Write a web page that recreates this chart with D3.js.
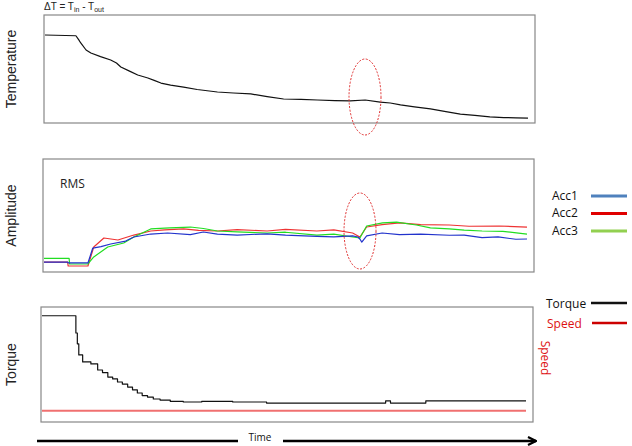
<!DOCTYPE html>
<html><head><meta charset="utf-8">
<script src="https://cdn.jsdelivr.net/npm/d3@7"></script>
<style>body{margin:0;background:#fff}svg{display:block}</style>
</head><body>
<svg id="c" width="632" height="446"></svg>
<script>
// time index 0..100, values in relative units 0..100
const tempT   = [0,6.4,7.0,7.4,8.5,9.5,11.5,13.6,14.8,15.7,17.5,19.2,21.3,22.6,24.0,26.0,28.7,31.5,35.7,39.0,42.6,46.0,49.4,53.0,56.4,60.0,63.2,66.3,69.4,71.5,73.6,76.5,79.8,83.0,86.0,89.0,92.1,95.0,97.5,100];
const tempV   = [81.5,80.8,76.9,74.1,67.6,64.8,61.5,58.3,55.5,51.9,48.0,44.4,41.7,39.5,37.0,35.0,33.3,31.0,28.7,27.8,26.9,24.5,22.2,21.8,21.3,20.8,20.4,21.3,19.4,18.5,16.7,15.0,13.0,10.5,8.3,7.0,5.6,5.0,4.8,4.6];

const accT1 = [0,4.9,5.0,9.1,10.1,11.8,13.8,16.9,18.6,22.1,25.6,30.3,33.0,35.9,40.0,46.2,50.0,56.5,60.0,63.9,65.0,65.4,65.8,66.8,70.0,73.6,78.0,83.9,87.0,90.7,94.0,97.7,100];
const acc1  = [8.8,8.8,8.0,8.0,21.2,22.4,24.8,27.4,31.0,33.6,34.5,33.0,35.4,33.5,32.7,33.8,32.7,31.5,31.0,32.0,31.0,29.2,26.5,31.9,34.5,33.0,33.6,32.5,32.7,30.5,31.0,29.0,29.2];
const accT2 = [0,4.9,5.0,9.1,10.3,12.4,15.3,18.6,22.1,25.0,28.9,32.0,35.9,40.0,46.2,50.0,56.5,60.0,63.9,65.4,66.8,70.0,73.6,78.0,83.9,88.0,94.2,100];
const acc2  = [8.8,8.8,5.3,5.3,22.1,30.1,28.3,32.7,36.3,37.2,38.1,36.8,36.3,37.5,36.3,37.8,36.3,37.2,34.5,31.0,39.8,42.0,43.4,42.0,41.6,40.5,40.7,39.8];
const accT3 = [0,5.2,5.3,9.1,10.3,13.2,16.5,18.6,22.1,26.0,30.3,33.0,35.9,40.0,46.2,50.0,56.5,60.0,63.9,65.4,66.8,70.1,73.0,77.1,80.0,83.9,87.0,90.7,95.0,100];
const acc3  = [12.1,12.1,7.1,7.1,13.3,22.1,25.7,31.0,38.1,39.0,39.8,38.5,36.3,35.5,34.5,35.2,32.7,33.5,31.0,30.1,40.7,43.4,44.2,41.6,39.0,38.1,37.0,36.3,36.0,33.6];

const torqT = [0,6.5,7.0,7.3,7.6,8.4,10.1,11.5,12.5,13.6,14.6,15.6,16.6,17.7,18.7,19.7,20.7,21.8,23.0,24.4,26.5,29.2,33.0,39.4,46.4,56.7,70.0,71.0,72.0,79.3,100];
const torq  = [92.4,92.4,77.4,68.0,58.3,52.2,50.5,45.2,43.0,39.1,37.5,34.8,33.0,30.4,28.0,25.2,23.0,21.7,20.0,19.1,18.0,17.4,18.0,17.4,16.5,16.5,16.5,18.3,16.5,18.3,18.3];
const speedT = [0,100];
const speed  = [9.8,9.8];

const accLegend = ["Acc1","Acc2","Acc3"];
const accLineCol = ["#2233cc","#ee3333","#22dd22"];
const accLegCol = ["#4f81bd","#e00000","#92d050"];

const svg = d3.select("#c");
const font = "'Liberation Sans', Arial, sans-serif";

function panel(p){
  const x = d3.scaleLinear().domain([0,100]).range([p.l+1, p.r-7]);
  const y = d3.scaleLinear().domain([0,100]).range([p.b, p.t]);
  svg.append("rect").attr("x",p.l).attr("y",p.t).attr("width",p.r-p.l).attr("height",p.b-p.t)
    .attr("fill","none").attr("stroke","#888").attr("stroke-width",1.2);
  svg.append("text").attr("transform",`translate(${p.lx},${(p.t+p.b)/2}) rotate(-90)`)
    .attr("text-anchor","middle").attr("dominant-baseline","central")
    .attr("font-family",font).attr("font-size",14).attr("fill","#222").text(p.label);
  return {x,y};
}
function drawLine(sc, ts, vs, color, w, curve){
  const pts = ts.map((t,i)=>[t,vs[i]]);
  svg.append("path").datum(pts)
    .attr("d", d3.line().x(d=>sc.x(d[0])).y(d=>sc.y(d[1])).curve(curve||d3.curveLinear))
    .attr("fill","none").attr("stroke",color).attr("stroke-width",w).attr("stroke-linejoin","round");
}

// title (at the top edge)
const tt = svg.append("text").attr("x",44).attr("y",10).attr("font-family",font).attr("font-size",10).attr("fill","#222");
tt.append("tspan").text("ΔT = T");
tt.append("tspan").attr("font-size",7).attr("dy",2).text("in");
tt.append("tspan").attr("dy",-2).text(" - T");
tt.append("tspan").attr("font-size",7).attr("dy",2).text("out");

// Panel 1
const s1 = panel({l:44,r:535,t:15,b:123,lx:11,label:"Temperature"});
drawLine(s1, tempT, tempV, "#111", 1.2);
svg.append("ellipse").attr("cx",365).attr("cy",97).attr("rx",16).attr("ry",38)
  .attr("fill","none").attr("stroke","#e03030").attr("stroke-width",1).attr("stroke-dasharray","2,1.5");

// Panel 2
const s2 = panel({l:43,r:534,t:159,b:272,lx:11,label:"Amplitude"});
svg.append("text").attr("x",60).attr("y",188).attr("font-family","'Open Sans', sans-serif").attr("font-size",12).attr("fill","#222").text("RMS");
drawLine(s2, accT2, acc2, accLineCol[1], 1.2);
drawLine(s2, accT3, acc3, accLineCol[2], 1.2);
drawLine(s2, accT1, acc1, accLineCol[0], 1.2);
svg.append("ellipse").attr("cx",360).attr("cy",231).attr("rx",16).attr("ry",38)
  .attr("fill","none").attr("stroke","#e03030").attr("stroke-width",1).attr("stroke-dasharray","2,1.5");
accLegend.forEach((name,i)=>{
  const yy = 195 + i*17.5;
  svg.append("text").attr("x",552).attr("y",yy).attr("dominant-baseline","central")
    .attr("font-family","'Open Sans', sans-serif").attr("font-size",12).attr("fill","#111").text(name);
  svg.append("line").attr("x1",591).attr("x2",627).attr("y1",yy+1).attr("y2",yy+1)
    .attr("stroke",accLegCol[i]).attr("stroke-width",3);
});

// Panel 3
const s3 = panel({l:41,r:533,t:307,b:422,lx:11,label:"Torque"});
drawLine(s3, speedT, speed, "#f07070", 2);
drawLine(s3, torqT, torq, "#111", 1.2, d3.curveStepAfter);
svg.append("text").attr("x",546).attr("y",303).attr("dominant-baseline","central")
  .attr("font-family","'Open Sans', sans-serif").attr("font-size",12).attr("fill","#111").text("Torque");
svg.append("line").attr("x1",591).attr("x2",627).attr("y1",303).attr("y2",303).attr("stroke","#111").attr("stroke-width",2.5);
svg.append("text").attr("x",547).attr("y",323).attr("dominant-baseline","central")
  .attr("font-family","'Open Sans', sans-serif").attr("font-size",12).attr("fill","#dd1111").text("Speed");
svg.append("line").attr("x1",592).attr("x2",627).attr("y1",323).attr("y2",323).attr("stroke","#cc0000").attr("stroke-width",2.5);
svg.append("text").attr("transform","translate(545,358) rotate(90)").attr("text-anchor","middle").attr("dominant-baseline","central")
  .attr("font-family","'Open Sans', sans-serif").attr("font-size",12).attr("fill","#dd1111").text("Speed");

// Time arrow
svg.append("defs").append("marker").attr("id","ah").attr("viewBox","0 0 10 10").attr("refX",9).attr("refY",5)
  .attr("markerWidth",4).attr("markerHeight",4).attr("orient","auto")
  .append("path").attr("d","M1,1 L9,5 L1,9").attr("fill","none").attr("stroke","#000").attr("stroke-width",2.2);
svg.append("line").attr("x1",37).attr("x2",238).attr("y1",441).attr("y2",441).attr("stroke","#000").attr("stroke-width",2.5);
svg.append("line").attr("x1",283).attr("x2",536).attr("y1",441).attr("y2",441).attr("stroke","#000").attr("stroke-width",2.5).attr("marker-end","url(#ah)");
svg.append("text").attr("x",260).attr("y",437).attr("text-anchor","middle").attr("dominant-baseline","central")
  .attr("font-family","'Open Sans', sans-serif").attr("font-size",10).attr("fill","#111").text("Time");
</script>
</body></html>
